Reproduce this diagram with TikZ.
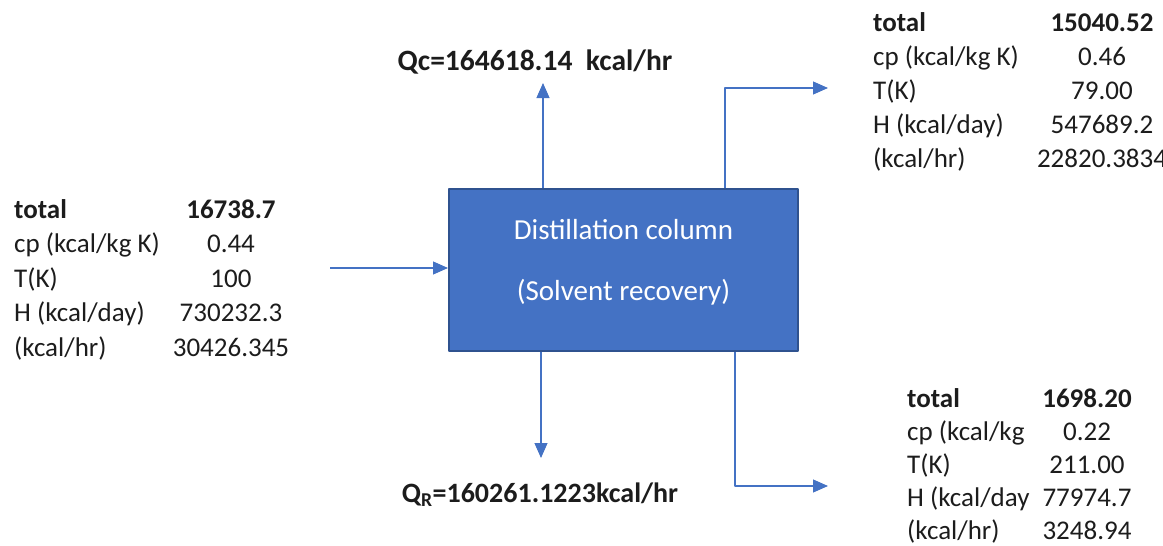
\documentclass[tikz,border=0pt]{standalone}
\usepackage{fontspec}
\setmainfont{Carlito}
\usetikzlibrary{arrows.meta}
\definecolor{boxblue}{HTML}{4472C4}
\definecolor{boxedge}{HTML}{2F528F}
\definecolor{ink}{HTML}{1C1C1C}
\tikzset{fig/.style={line join=round,>={Triangle[length=15pt,width=13pt]}},
 flow/.style={boxblue,line width=1.1pt,->},
 tab/.style={font=\fontsize{27}{30}\selectfont,text=ink,inner sep=0pt},
 heat/.style={font=\fontsize{28}{30}\selectfont\bfseries,text=ink,inner sep=0pt}}

\begin{document}
\begin{tikzpicture}[fig,x=1pt,y=-1pt]
 \useasboundingbox (0,0) rectangle (1163,546);
 \node[fill=boxblue,draw=boxedge,line width=2pt,minimum width=349pt,minimum height=162pt] (col) at (623.5,270) {};
 \node[text=white,align=center,font=\fontsize{29}{61}\selectfont] (coltxt) at ([yshift=8pt]col.center) {Distillation column\\(Solvent recovery)};
 \coordinate (feed) at (330,268);
 \coordinate (qctip) at (543,83);
 \coordinate (qrtip) at (541,458);
 \coordinate (topx) at (725,0);
 \coordinate (botx) at (735,0);
 \coordinate (topout) at (828,88);
 \coordinate (botout) at (828,486);
 \draw[flow] (feed) -- (feed -| col.west);
 \draw[flow] (col.north -| qctip) -- (qctip);
 \draw[flow] (col.south -| qrtip) -- (qrtip);
 \draw[flow] (col.north -| topx) |- (topout);
 \draw[flow] (col.south -| botx) |- (botout);
 \node[heat,font=\fontsize{29.5}{30}\selectfont\bfseries] (qc) at (535,62) {Qc=164618.14\ \ kcal/hr};
 \node[heat] (qr) at (540,495) {Q\textsubscript{R}=160261.1223kcal/hr};
 % stream tables
 \foreach \i/\lab/\val in {1/{\bfseries total}/{\bfseries 16738.7},2/{cp (kcal/kg K)}/{0.44},3/{T(K)}/{100},4/{H (kcal/day)}/{730232.3},5/{(kcal/hr)}/{30426.345}}{
  \node[tab,anchor=base west] (feed-l\i) at (14,{218+34.5*(\i-1)}) {\lab};
  \node[tab,anchor=base] (feed-v\i) at (231,{218+34.5*(\i-1)}) {\val};}
 \foreach \i/\lab/\val in {1/{\bfseries total}/{\bfseries 15040.52},2/{cp (kcal/kg K)}/{0.46},3/{T(K)}/{79.00},4/{H (kcal/day)}/{547689.2},5/{(kcal/hr)}/{22820.3834}}{
  \node[tab,anchor=base west] (top-l\i) at (873,{31+34*(\i-1)}) {\lab};
  \node[tab,anchor=base] (top-v\i) at (1102,{31+34*(\i-1)}) {\val};}
 \foreach \i/\lab/\val in {1/{\bfseries total}/{\bfseries 1698.20},2/{cp (kcal/kg}/{0.22},3/{T(K)}/{211.00},4/{H (kcal/day}/{77974.7},5/{(kcal/hr)}/{3248.94}}{
  \node[tab,anchor=base west] (bot-l\i) at (907,{407+33*(\i-1)}) {\lab};
  \node[tab,anchor=base] (bot-v\i) at (1087,{407+33*(\i-1)}) {\val};}
\end{tikzpicture}
\end{document}
